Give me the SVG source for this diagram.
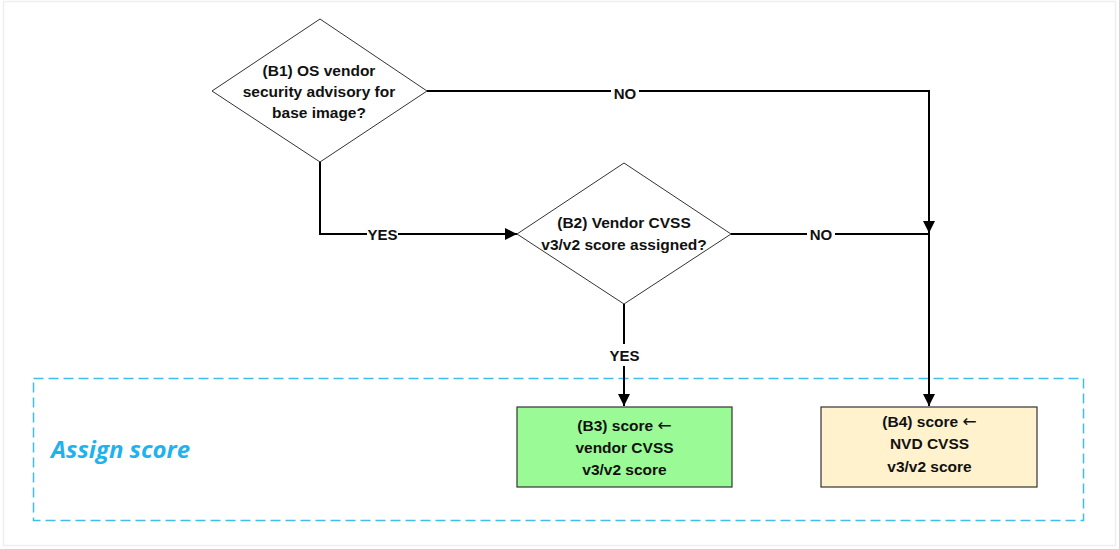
<svg xmlns="http://www.w3.org/2000/svg" width="1119" height="549" viewBox="0 0 1119 549">
<style>
.node{stroke:#333;stroke-width:1.2}
.dia{fill:#fff;stroke:#333;stroke-width:1}
.t{font-family:"Liberation Sans",Arial,sans-serif;font-weight:bold;font-size:15.5px;fill:#111;text-anchor:middle}
.ar{font-family:"DejaVu Sans",sans-serif;font-weight:normal;font-size:17px}
.lbl{font-family:"Liberation Sans",Arial,sans-serif;font-weight:bold;font-size:15px;fill:#111;text-anchor:middle}
.c{fill:none;stroke:#000;stroke-width:2}
.bg{fill:#fff}
</style>
<defs>
<marker id="ah" viewBox="0 0 12 12" refX="12" refY="6" markerWidth="12" markerHeight="12" markerUnits="userSpaceOnUse" orient="auto">
<path d="M0,0 L12,6 L0,12 Z" fill="#000"/>
</marker>
</defs>
<rect x="0" y="0" width="1119" height="549" fill="#fff"/>
<rect x="3.5" y="1.5" width="1112" height="544" fill="none" stroke="#eeeeee" stroke-width="1.5"/>
<g id="container">
<rect x="33.5" y="378.5" width="1050" height="142" fill="none" stroke="#41bdec" stroke-width="1.5" stroke-dasharray="10,5"/>
<text x="51" y="458" style="font-family:'Open Sans','Liberation Sans',sans-serif;font-weight:bold;font-style:italic;font-size:24px;fill:#1eb3ee">Assign score</text>
</g>
<g id="connectors">
<polyline class="c" points="427,91 929,91 929,233" marker-end="url(#ah)"/>
<polyline class="c" points="320,161 320,234 517,234" marker-end="url(#ah)"/>
<line class="c" x1="731" y1="234" x2="929" y2="234" stroke-width="1.5"/>
<line class="c" x1="929" y1="233" x2="929" y2="406" marker-end="url(#ah)"/>
<line class="c" x1="624" y1="304" x2="624" y2="406" marker-end="url(#ah)"/>
<rect class="bg" x="611" y="82" width="28" height="20"/>
<text class="lbl" x="625" y="98.5">NO</text>
<rect class="bg" x="367" y="225" width="31" height="20"/>
<text class="lbl" x="382.5" y="240">YES</text>
<rect class="bg" x="807" y="225" width="28" height="20"/>
<text class="lbl" x="821" y="240">NO</text>
<rect class="bg" x="608" y="344" width="33" height="22"/>
<text class="lbl" x="624.5" y="361">YES</text>
</g>
<g id="B1">
<polygon class="dia" points="320,19 427,91 320,162 212,91"/>
<text class="t" x="319" y="76">(B1) OS vendor</text>
<text class="t" x="319" y="97">security advisory for</text>
<text class="t" x="319" y="118">base image?</text>
</g>
<g id="B2">
<polygon class="dia" points="624,163 731,234 624,304 517,234"/>
<text class="t" x="624" y="228">(B2) Vendor CVSS</text>
<text class="t" x="624" y="250">v3/v2 score assigned?</text>
</g>
<g id="B3">
<rect class="node" x="517" y="407" width="215" height="80" fill="#9afb96"/>
<text class="t" x="624.5" y="431">(B3) score <tspan class="ar">←</tspan></text>
<text class="t" x="624.5" y="453">vendor CVSS</text>
<text class="t" x="624.5" y="475">v3/v2 score</text>
</g>
<g id="B4">
<rect class="node" x="821" y="407" width="216" height="80" fill="#fff2cc"/>
<text class="t" x="929.5" y="427">(B4) score <tspan class="ar">←</tspan></text>
<text class="t" x="929.5" y="449">NVD CVSS</text>
<text class="t" x="929.5" y="472">v3/v2 score</text>
</g>
</svg>
